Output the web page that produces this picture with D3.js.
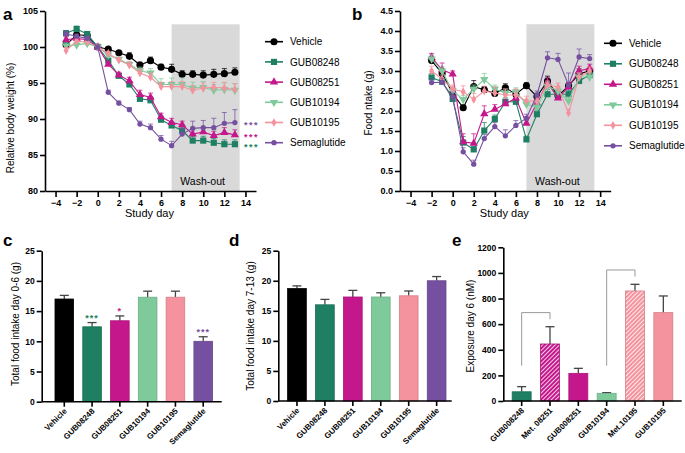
<!DOCTYPE html>
<html>
<head>
<meta charset="utf-8">
<script src="https://cdn.jsdelivr.net/npm/d3@7"></script>
<style>
    body { margin: 0; background: #fff; }
    svg { font-family: "Liberation Sans", Arial, sans-serif; }
</style>
</head>
<body>
<svg id="fig" width="685" height="453"></svg>
<script>
const groupNames = ["Vehicle", "GUB08248", "GUB08251", "GUB10194", "GUB10195", "Semaglutide"];
const groupColors = ["#000000", "#1e7f62", "#c4178b", "#7fca9b", "#f4929d", "#7650a0"];

// a: relative body weight (%), mean and SEM
const weightDays = [-3, -2, -1, 0, 1, 2, 3, 4, 5, 6, 7, 8, 9, 10, 11, 12, 13];
const weightVehicle = [100.3, 101.7, 101.6, 100, 99.7, 99.2, 98.7, 97.5, 98.1, 97.2, 96.9, 96.2, 96.2, 96.1, 96.2, 96.3, 96.5];
const weight08248 = [101.9, 102.5, 101.8, 100, 98.1, 96.0, 94.8, 92.8, 92.6, 89.9, 89.1, 88.4, 87.0, 87.0, 86.7, 86.5, 86.5];
const weight08251 = [101.0, 101.2, 101.0, 100, 97.6, 96.1, 95.3, 93.4, 93.0, 90.3, 89.5, 89.2, 87.9, 88.2, 87.7, 88.1, 87.8];
const weight10194 = [100.2, 100.3, 100.5, 100, 98.9, 98.3, 97.6, 96.7, 96.4, 94.8, 94.8, 94.8, 94.3, 94.4, 94.0, 94.1, 94.0];
const weight10195 = [99.5, 100.8, 100.7, 100, 99.1, 98.2, 97.5, 96.4, 95.8, 94.5, 94.5, 94.5, 94.0, 94.3, 94.4, 94.3, 94.1];
const weightSema = [101.8, 101.5, 101.2, 100, 93.7, 92.2, 91.3, 89.3, 88.8, 87.2, 86.3, 87.9, 88.7, 88.8, 88.8, 89.4, 89.5];
const weightSemVehicle = [0.4, 0.3, 0.3, 0, 0.2, 0.2, 0.5, 0.4, 0.5, 0.4, 0.7, 0.5, 0.5, 0.6, 0.7, 0.7, 0.6];
const weightSem08248 = [0.4, 0.4, 0.3, 0, 0.3, 0.3, 0.4, 0.5, 0.5, 0.5, 0.5, 0.6, 0.6, 0.6, 0.6, 0.6, 0.6];
const weightSem08251 = [0.4, 0.3, 0.3, 0, 0.3, 0.4, 0.5, 0.6, 0.6, 0.5, 0.6, 0.5, 0.6, 0.6, 0.6, 0.7, 0.7];
const weightSem10194 = [0.4, 0.3, 0.3, 0, 0.3, 0.3, 0.4, 0.5, 0.6, 0.8, 0.9, 0.9, 0.8, 0.8, 0.8, 0.9, 0.9];
const weightSem10195 = [0.4, 0.3, 0.3, 0, 0.3, 0.3, 0.4, 0.5, 0.6, 0.6, 0.7, 0.7, 0.7, 0.7, 0.7, 0.8, 0.8];
const weightSemSema = [0.4, 0.3, 0.3, 0, 0.3, 0.3, 0.3, 0.4, 0.5, 0.5, 0.6, 0.8, 1.0, 1.0, 1.3, 1.5, 1.8];
const weightStars = ["", "***", "***", "", "", "***"];

// b: daily food intake (g), mean and SEM
const intakeDays = [-2, -1, 0, 1, 2, 3, 4, 5, 6, 7, 8, 9, 10, 11, 12, 13];
const intakeVehicle = [3.26, 2.94, 2.44, 2.08, 2.61, 2.53, 2.44, 2.58, 2.42, 2.63, 2.36, 2.75, 2.38, 2.63, 2.93, 3.0];
const intake08248 = [2.84, 2.73, 2.30, 1.21, 1.04, 1.51, 1.80, 2.23, 2.23, 1.29, 1.92, 2.42, 2.42, 2.42, 2.75, 2.9];
const intake08251 = [3.34, 3.03, 2.92, 1.23, 1.19, 1.93, 2.04, 2.18, 2.32, 1.69, 2.2, 2.71, 2.32, 2.6, 3.0, 3.07];
const intake10194 = [3.3, 3.0, 2.5, 2.29, 2.55, 2.79, 2.55, 2.45, 2.48, 2.17, 2.1, 2.62, 2.5, 2.25, 2.85, 2.85];
const intake10195 = [3.0, 2.8, 2.55, 2.48, 2.29, 2.5, 2.45, 2.4, 2.4, 2.25, 2.25, 2.65, 2.6, 1.95, 2.85, 3.0];
const intakeSema = [2.71, 2.72, 2.35, 0.98, 0.67, 1.31, 1.61, 1.38, 1.64, 1.82, 2.4, 3.33, 3.29, 2.65, 3.35, 3.31];
const intakeSemVehicle = [0.08, 0.1, 0.1, 0.07, 0.15, 0.08, 0.08, 0.1, 0.1, 0.08, 0.08, 0.12, 0.06, 0.08, 0.12, 0.08];
const intakeSem08248 = [0.1, 0.08, 0.1, 0.15, 0.08, 0.2, 0.1, 0.1, 0.1, 0.08, 0.1, 0.12, 0.1, 0.1, 0.08, 0.1];
const intakeSem08251 = [0.1, 0.17, 0.08, 0.2, 0.24, 0.2, 0.12, 0.1, 0.1, 0.1, 0.1, 0.12, 0.1, 0.1, 0.12, 0.1];
const intakeSem10194 = [0.1, 0.1, 0.1, 0.1, 0.1, 0.15, 0.1, 0.1, 0.1, 0.1, 0.1, 0.1, 0.1, 0.1, 0.1, 0.1];
const intakeSem10195 = [0.12, 0.1, 0.1, 0.15, 0.15, 0.12, 0.15, 0.15, 0.15, 0.12, 0.1, 0.1, 0.1, 0.1, 0.1, 0.1];
const intakeSemSema = [0.08, 0.1, 0.1, 0.1, 0.1, 0.1, 0.1, 0.15, 0.12, 0.1, 0.1, 0.15, 0.15, 0.3, 0.2, 0.1];

const washOut = [7, 13.45];
const dayTicks = [-4, -2, 0, 2, 4, 6, 8, 10, 12, 14];

// c, d: total food intake (g)
const intake0to6 = [17.0, 12.4, 13.4, 17.3, 17.3, 10.0];
const intake0to6Sem = [0.6, 0.7, 0.8, 1.0, 1.0, 0.75];
const intake0to6Stars = ["", "***", "*", "", "", "***"];
const intake7to13 = [18.7, 16.0, 17.3, 17.3, 17.5, 20.0];
const intake7to13Sem = [0.45, 0.9, 1.1, 0.7, 0.8, 0.7];

// e: exposure day 6 (nM)
const exposureLabels = ["GUB008248", "Met. 08251", "GUB008251", "GUB10194", "Met.10195", "GUB10195"];
const exposure = [72, 445, 216, 60, 859, 690];
const exposureSem = [40, 135, 39, 5, 52, 130];
const exposureColors = ["#1e7f62", "#c4178b", "#c4178b", "#7fca9b", "#f4929d", "#f4929d"];
const exposureHatched = [false, true, false, false, true, false];
// brackets: [from bar, to bar, top, left foot, right foot]
const exposureBrackets = [[0, 1, 690, 276, 638], [3, 4, 1023, 276, 971]];

const markerTypes = [d3.symbolCircle, d3.symbolSquare, d3.symbolTriangle, d3.symbolTriangle, d3.symbolDiamond, d3.symbolCircle];
const markerSizes = [40, 38, 30, 30, 22, 22];
const markerTurn = [0, 0, 0, 180, 0, 0];

const svg = d3.select('#fig');

/** thicker GraphPad-looking axis with bold tick labels */
function styleAxis(sel, fontSize) {
    sel.attr('font-family', null).attr('font-size', null);
    sel.select('.domain').attr('stroke-width', 1.6);
    sel.selectAll('.tick line').attr('stroke-width', 1.6);
    sel.selectAll('.tick text')
    .style('font-weight', 'bold')
    .style('font-size', fontSize + 'px')
    .attr('fill', '#000');
}

function marker(i) {
    return d3.symbol().type(markerTypes[i]).size(markerSizes[i])();
}

function panelLetter(letter, x, y) {
    svg.append('text')
    .attr('x', x).attr('y', y)
    .style('font-weight', 'bold')
    .style('font-size', '17px')
    .text(letter);
}

function yLabel(text, x, y, size) {
    svg.append('text')
    .attr('transform', `translate(${x},${y}) rotate(-90)`)
    .attr('text-anchor', 'middle')
    .attr('dy', '0.35em')
    .style('font-size', size + 'px')
    .text(text);
}

/** time course panel (a, b) */
function drawTimeCourse(cfg) {
    const x = d3.scaleLinear().domain([-5, 15]).range([cfg.left, cfg.right]);
    const y = d3.scaleLinear().domain(cfg.yDomain).range([cfg.bottom, cfg.top]);
    const g = svg.append('g');

    g.append('rect')
    .attr('x', x(washOut[0]))
    .attr('width', x(washOut[1]) - x(washOut[0]))
    .attr('y', y(cfg.washTop))
    .attr('height', y(cfg.yDomain[0]) - y(cfg.washTop))
    .attr('fill', '#d9d9d9');

    g.append('text')
    .attr('x', (x(washOut[0]) + x(washOut[1])) / 2 - 3)
    .attr('y', cfg.bottom - 6)
    .attr('text-anchor', 'middle')
    .style('font-size', '10.5px')
    .text('Wash-out');

    g.append('g')
    .attr('transform', `translate(${cfg.left},0)`)
    .call(d3.axisLeft(y).tickValues(cfg.yTicks).tickFormat(cfg.yFormat).tickSize(5).tickPadding(2).tickSizeOuter(0))
    .call(s => styleAxis(s, 9));

    g.append('g')
    .attr('transform', `translate(0,${cfg.bottom})`)
    .call(d3.axisBottom(x).tickValues(dayTicks).tickSize(6).tickPadding(3).tickSizeOuter(0))
    .call(s => styleAxis(s, 9));

    g.append('text')
    .attr('x', x(4.9)).attr('y', cfg.bottom + 26)
    .attr('text-anchor', 'middle')
    .style('font-size', '11px')
    .text('Study day');

    cfg.series.forEach((s, i) => {
        const pts = cfg.days.map((d, k) => ({ d: d, v: s.mean[k], e: s.sem[k] }));
        const c = groupColors[i];
        const sg = g.append('g');

        sg.append('path')
        .datum(pts)
        .attr('fill', 'none')
        .attr('stroke', c)
        .attr('stroke-width', 1.1)
        .attr('d', d3.line().x(p => x(p.d)).y(p => y(p.v)));

        let errs = sg.selectAll('g.err')
        .data(pts.filter(p => p.e > 0))
        .enter()
        .append('g')
        .attr('stroke', c)
        .attr('stroke-opacity', 0.75)
        .attr('stroke-width', 1);
        errs.append('line')
        .attr('x1', p => x(p.d)).attr('x2', p => x(p.d))
        .attr('y1', p => y(p.v)).attr('y2', p => y(p.v + p.e));
        errs.append('line')
        .attr('x1', p => x(p.d) - 2.5).attr('x2', p => x(p.d) + 2.5)
        .attr('y1', p => y(p.v + p.e)).attr('y2', p => y(p.v + p.e));

        sg.selectAll('path.pt')
        .data(pts)
        .enter()
        .append('path')
        .attr('d', marker(i))
        .attr('transform', p => `translate(${x(p.d)},${y(p.v)}) rotate(${markerTurn[i]})`)
        .attr('fill', c);
    });

    // legend
    groupNames.forEach((name, i) => {
        const ly = cfg.legendY + i * cfg.legendStep;
        g.append('line')
        .attr('x1', cfg.legendX).attr('x2', cfg.legendX + 18)
        .attr('y1', ly).attr('y2', ly)
        .attr('stroke', groupColors[i])
        .attr('stroke-width', 1.6);
        g.append('path')
        .attr('d', marker(i))
        .attr('transform', `translate(${cfg.legendX + 9},${ly}) rotate(${markerTurn[i]})`)
        .attr('fill', groupColors[i]);
        g.append('text')
        .attr('x', cfg.legendX + 25).attr('y', ly + 3.6)
        .style('font-size', '10px')
        .text(name);
    });

    if (cfg.stars) {
        cfg.stars.forEach((st, i) => {
            if (!st) return;
            const last = cfg.series[i].mean[cfg.series[i].mean.length - 1];
            g.append('text')
            .attr('x', cfg.starX).attr('y', y(last) + 5.5)
            .attr('fill', groupColors[i])
            .style('font-size', '9px')
            .style('font-weight', 'bold')
            .style('letter-spacing', '1.5px')
            .text(st);
        });
    }
}

/** bar panel (c, d, e) */
function drawBars(cfg) {
    const x = d3.scaleBand().domain(cfg.labels).range(cfg.band).paddingInner(0.33).paddingOuter(0.165);
    const y = d3.scaleLinear().domain(cfg.yDomain).range([cfg.bottom, cfg.top]);
    const g = svg.append('g');

    const rows = cfg.labels.map((l, i) => ({ l: l, v: cfg.values[i], e: cfg.sem[i], c: cfg.colors[i], i: i }));

    rows.forEach(r => {
        const cx = x(r.l) + x.bandwidth() / 2;
        g.append('line')
        .attr('x1', cx).attr('x2', cx)
        .attr('y1', y(r.v)).attr('y2', y(r.v + r.e))
        .attr('stroke', '#444').attr('stroke-width', 1.3);
        g.append('line')
        .attr('x1', cx - 4.5).attr('x2', cx + 4.5)
        .attr('y1', y(r.v + r.e)).attr('y2', y(r.v + r.e))
        .attr('stroke', '#444').attr('stroke-width', 1.3);
    });

    g.selectAll('rect.bar')
    .data(rows)
    .enter()
    .append('rect')
    .attr('x', r => x(r.l))
    .attr('width', x.bandwidth())
    .attr('y', r => y(r.v))
    .attr('height', r => y(0) - y(r.v))
    .attr('fill', r => (cfg.hatched && cfg.hatched[r.i]) ? `url(#hatch${r.i})` : r.c)
    .attr('stroke', r => d3.color(r.c).darker(0.4))
    .attr('stroke-width', 0.8);

    if (cfg.stars) {
        rows.forEach(r => {
            if (!cfg.stars[r.i]) return;
            g.append('text')
            .attr('x', x(r.l) + x.bandwidth() / 2)
            .attr('y', y(r.v + r.e) - 2)
            .attr('text-anchor', 'middle')
            .attr('fill', r.c)
            .style('font-size', '9px')
            .style('font-weight', 'bold')
            .style('letter-spacing', '1px')
            .text(cfg.stars[r.i]);
        });
    }

    if (cfg.brackets) {
        cfg.brackets.forEach(b => {
            const x1 = x(cfg.labels[b[0]]) + x.bandwidth() / 2;
            const x2 = x(cfg.labels[b[1]]) + x.bandwidth() / 2;
            g.append('path')
            .attr('d', `M${x1},${y(b[3])}V${y(b[2])}H${x2}V${y(b[4])}`)
            .attr('fill', 'none')
            .attr('stroke', '#999')
            .attr('stroke-width', 1);
        });
    }

    g.append('g')
    .attr('transform', `translate(${cfg.axisX},0)`)
    .call(d3.axisLeft(y).tickValues(cfg.yTicks).tickFormat(d3.format('d')).tickSize(5).tickPadding(2).tickSizeOuter(0))
    .call(s => styleAxis(s, 8.5));

    let xa = g.append('g')
    .attr('transform', `translate(0,${cfg.bottom})`)
    .call(d3.axisBottom(x).tickSize(5).tickSizeOuter(0))
    .call(s => styleAxis(s, 8));
    xa.select('.domain').remove();
    xa.selectAll('.tick text')
    .attr('text-anchor', 'end')
    .attr('dy', null)
    .attr('y', 0)
    .attr('transform', 'translate(3,10) rotate(-45)');

    g.append('line')
    .attr('x1', cfg.axisX).attr('x2', cfg.axisEnd)
    .attr('y1', cfg.bottom).attr('y2', cfg.bottom)
    .attr('stroke', '#000').attr('stroke-width', 1.6);

    yLabel(cfg.yLabel, cfg.labelX, cfg.labelY, 10);
}

// hatch patterns for metabolite bars
const defs = svg.append('defs');
exposureColors.forEach((c, i) => {
    if (!exposureHatched[i]) return;
    let p = defs.append('pattern')
    .attr('id', 'hatch' + i)
    .attr('patternUnits', 'userSpaceOnUse')
    .attr('width', 3).attr('height', 3)
    .attr('patternTransform', 'rotate(45)');
    p.append('rect').attr('width', 3).attr('height', 3).attr('fill', c);
    p.append('line')
    .attr('x1', 0.5).attr('x2', 0.5).attr('y1', 0).attr('y2', 3)
    .attr('stroke', '#fff').attr('stroke-width', 1).attr('stroke-opacity', 0.8);
});

drawTimeCourse({
    left: 45, right: 256, top: 11, bottom: 191,
    yDomain: [80, 105], yTicks: [80, 85, 90, 95, 100, 105], yFormat: d3.format('d'),
    washTop: 103.15,
    days: weightDays,
    series: [
        { mean: weightVehicle, sem: weightSemVehicle },
        { mean: weight08248, sem: weightSem08248 },
        { mean: weight08251, sem: weightSem08251 },
        { mean: weight10194, sem: weightSem10194 },
        { mean: weight10195, sem: weightSem10195 },
        { mean: weightSema, sem: weightSemSema }
    ],
    legendX: 265, legendY: 41.7, legendStep: 20.2,
    stars: weightStars, starX: 244
});
yLabel('Relative body weight (%)', 10, 118, 10);
panelLetter('a', 3, 20);

drawTimeCourse({
    left: 400, right: 610.7, top: 11, bottom: 191,
    yDomain: [0, 4.5], yTicks: [0, 0.5, 1, 1.5, 2, 2.5, 3, 3.5, 4, 4.5], yFormat: d3.format('.1f'),
    washTop: 4.17,
    days: intakeDays,
    series: [
        { mean: intakeVehicle, sem: intakeSemVehicle },
        { mean: intake08248, sem: intakeSem08248 },
        { mean: intake08251, sem: intakeSem08251 },
        { mean: intake10194, sem: intakeSem10194 },
        { mean: intake10195, sem: intakeSem10195 },
        { mean: intakeSema, sem: intakeSemSema }
    ],
    legendX: 604, legendY: 43.3, legendStep: 20.5
});
yLabel('Food ntake (g)', 368, 103, 10);
panelLetter('b', 352, 20);

drawBars({
    labels: groupNames, values: intake0to6, sem: intake0to6Sem, colors: groupColors,
    stars: intake0to6Stars,
    yDomain: [0, 25], yTicks: [0, 5, 10, 15, 20, 25],
    axisX: 41.7, axisEnd: 221.7, top: 250.7, bottom: 401.7, band: [50.4, 217.1],
    yLabel: 'Total food intake day 0-6 (g)', labelX: 15, labelY: 324
});
panelLetter('c', 3, 246);

drawBars({
    labels: groupNames, values: intake7to13, sem: intake7to13Sem, colors: groupColors,
    yDomain: [0, 25], yTicks: [0, 5, 10, 15, 20, 25],
    axisX: 278.3, axisEnd: 451.7, top: 250.7, bottom: 401, band: [283, 450.6],
    yLabel: 'Total food intake day 7-13 (g)', labelX: 250, labelY: 326
});
panelLetter('d', 229, 246);

drawBars({
    labels: exposureLabels, values: exposure, sem: exposureSem, colors: exposureColors,
    hatched: exposureHatched, brackets: exposureBrackets,
    yDomain: [0, 1200], yTicks: [0, 200, 400, 600, 800, 1000, 1200],
    axisX: 503.3, axisEnd: 681.7, top: 247.3, bottom: 401, band: [507.5, 677.5],
    yLabel: 'Exposure day 6 (nM)', labelX: 470, labelY: 326
});
panelLetter('e', 452, 246);
</script>
</body>
</html>
